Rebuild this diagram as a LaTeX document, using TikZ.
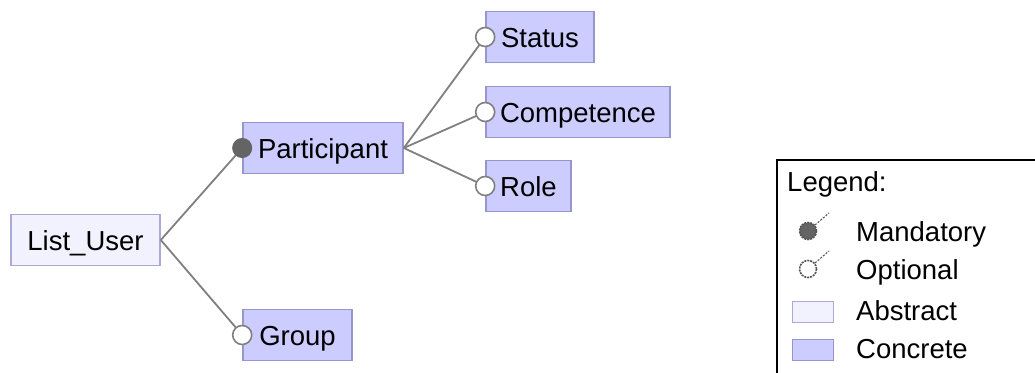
\documentclass[tikz,border=0pt]{standalone}
\usepackage{fontspec}
\setmainfont{Liberation Sans}
\definecolor{concfill}{RGB}{204,204,255}
\definecolor{concdraw}{RGB}{150,150,205}
\definecolor{absfill}{RGB}{242,242,255}
\definecolor{absdraw}{RGB}{170,170,215}
\definecolor{edgecol}{RGB}{128,128,128}
\definecolor{mandcol}{RGB}{100,100,100}
\definecolor{lgcol}{RGB}{85,85,85}
\begin{document}
\begin{tikzpicture}[x=1pt,y=-1pt,
  feat/.style={draw=concdraw,fill=concfill,line width=1.6pt,inner sep=0pt,minimum height=51pt,text height=26pt,text depth=6pt,font=\fontsize{27.5}{32}\selectfont},
  abst/.style={feat,draw=absdraw,fill=absfill},
  edge/.style={draw=edgecol,line width=1.8pt},
  mand/.style={circle,draw=mandcol,fill=mandcol,line width=1pt,minimum size=19pt,inner sep=0pt},
  opt/.style={circle,draw=edgecol,fill=white,line width=1.6pt,minimum size=19pt,inner sep=0pt},
  lgcirc/.style={circle,draw=lgcol,dash pattern=on 2pt off 1pt,line width=1.6pt,minimum size=17pt,inner sep=0pt},
  lgline/.style={lgcol,dash pattern=on 2pt off 1.5pt,line width=1.1pt},
  lgrect/.style={line width=1.2pt,minimum width=41pt,minimum height=21pt,inner sep=0pt},
  lgtext/.style={anchor=west,inner sep=0pt,font=\fontsize{27.5}{32}\selectfont}]
\useasboundingbox (0,0) rectangle (1035,372);
\fill[white] (0,0) rectangle (1035,372);
% feature nodes
\node[abst,minimum width=149pt] (lu) at (85.5,240) {List\_User};
\node[feat,minimum width=160pt] (pa) at (323,148) {Participant};
\node[feat,minimum width=109pt] (gr) at (297.5,335) {Group};
\node[feat,minimum width=108pt] (st) at (540,37) {Status};
\node[feat,minimum width=184pt] (co) at (578,112) {Competence};
\node[feat,minimum width=85pt] (ro) at (528.5,186) {Role};
% connector circle positions
\coordinate (mpa) at (pa.west);
\coordinate (ogr) at (gr.west);
\coordinate (ost) at (st.west);
\coordinate (oco) at (co.west);
\coordinate (oro) at (ro.west);
% edges
\draw[edge] (lu.east) -- (mpa);
\draw[edge] (lu.east) -- (ogr);
\draw[edge] (pa.east) -- (ost);
\draw[edge] (pa.east) -- (oco);
\draw[edge] (pa.east) -- (oro);
% circles on top
\node[mand] (cpa) at (mpa) {};
\node[opt] (cgr) at (ogr) {};
\node[opt] (cst) at (ost) {};
\node[opt] (cco) at (oco) {};
\node[opt] (cro) at (oro) {};
% legend
\draw[line width=2pt,black] (777,160) rectangle (1045,385);
\node[lgtext] (lg) at (787,184) {Legend:};
\coordinate (lm1) at (829,213);
\node[lgcirc,fill=mandcol] (lm) at (808,231) {};
\draw[lgline] (lm) -- (lm1);
\coordinate (lo1) at (829,251);
\node[lgcirc,fill=white] (lo) at (808,269) {};
\draw[lgline] (lo) -- (lo1);
\node[lgrect,draw=absdraw,fill=absfill] (la) at (813,312) {};
\node[lgrect,draw=concdraw,fill=concfill] (lc) at (813,350) {};
\node[lgtext] (tm) at (856,234) {Mandatory};
\node[lgtext] (to) at (856,272) {Optional};
\node[lgtext] (ta) at (856,311) {Abstract};
\node[lgtext] (tc) at (856,349) {Concrete};
\end{tikzpicture}
\end{document}
